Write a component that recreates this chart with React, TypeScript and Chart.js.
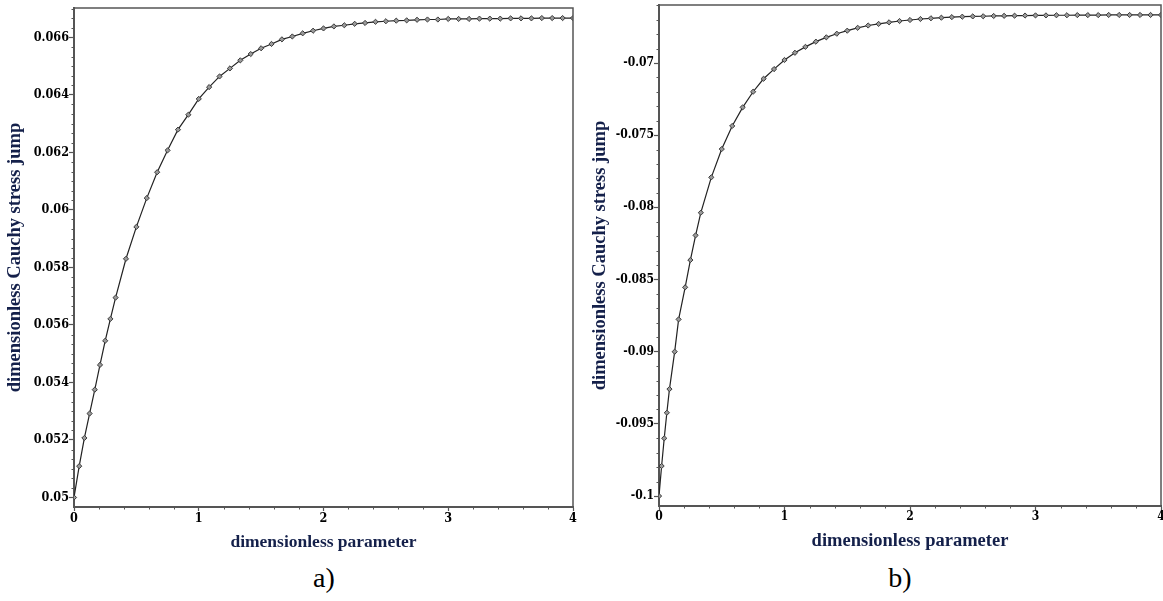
import React, { useEffect, useRef } from "react";
import { Chart, registerables } from "chart.js";
Chart.register(...registerables);

// ---- data ----
const xA = [0, 0.0417, 0.0833, 0.125, 0.1667, 0.2083, 0.25, 0.2917, 0.3333, 0.4167, 0.5, 0.5833, 0.6667, 0.75, 0.8333, 0.9167, 1.0,
  1.0833, 1.1667, 1.25, 1.3333, 1.4167, 1.5, 1.5833, 1.6667, 1.75, 1.8333, 1.9167, 2.0,
  2.0833, 2.1667, 2.25, 2.3333, 2.4167, 2.5, 2.5833, 2.6667, 2.75, 2.8333, 2.9167, 3.0,
  3.0833, 3.1667, 3.25, 3.3333, 3.4167, 3.5, 3.5833, 3.6667, 3.75, 3.8333, 3.9167, 4.0];
const yA = [0.05, 0.05109, 0.05207, 0.05292, 0.05375, 0.05461, 0.05545, 0.05621, 0.05695, 0.0583, 0.05941, 0.06041, 0.06131, 0.06207, 0.06279, 0.06331, 0.06386,
  0.06427, 0.06464, 0.06492, 0.0652, 0.06542, 0.06562, 0.06577, 0.06593, 0.06603, 0.06614, 0.06623, 0.06631,
  0.06638, 0.06642, 0.06647, 0.0665, 0.06654, 0.06656, 0.06658, 0.06659, 0.06661, 0.06662, 0.06662, 0.06664,
  0.06664, 0.06664, 0.06665, 0.06665, 0.06665, 0.06666, 0.06666, 0.06666, 0.06667, 0.06667, 0.06667, 0.06667];

const xB = [0, 0.0208, 0.0417, 0.0625, 0.0833, 0.125, 0.1563, 0.2083, 0.25, 0.2917, 0.3333, 0.4167, 0.5, 0.5833, 0.6667, 0.75, 0.8333, 0.9167, 1.0,
  1.0833, 1.1667, 1.25, 1.3333, 1.4167, 1.5, 1.5833, 1.6667, 1.75, 1.8333, 1.9167, 2.0,
  2.0833, 2.1667, 2.25, 2.3333, 2.4167, 2.5, 2.5833, 2.6667, 2.75, 2.8333, 2.9167, 3.0,
  3.0833, 3.1667, 3.25, 3.3333, 3.4167, 3.5, 3.5833, 3.6667, 3.75, 3.8333, 3.9167, 4.0];
const yB = [-0.1, -0.09792, -0.096, -0.09423, -0.09259, -0.09, -0.08776, -0.08554, -0.08365, -0.08194, -0.08037, -0.07792, -0.07596, -0.07436, -0.07307, -0.07199, -0.07109, -0.07042, -0.06979,
  -0.06929, -0.06888, -0.06852, -0.06822, -0.06797, -0.06776, -0.06756, -0.0674, -0.06729, -0.06718, -0.06709, -0.06702,
  -0.06695, -0.0669, -0.06686, -0.06682, -0.06679, -0.06677, -0.06676, -0.06674, -0.06673, -0.06672, -0.06671, -0.0667,
  -0.0667, -0.06669, -0.06669, -0.06668, -0.06668, -0.06668, -0.06667, -0.06667, -0.06667, -0.06667, -0.06667, -0.06667];

const xTicks = [0, 1, 2, 3, 4];
const yTicksA = [0.05, 0.052, 0.054, 0.056, 0.058, 0.06, 0.062, 0.064, 0.066];
const yTicksB = [-0.1, -0.095, -0.09, -0.085, -0.08, -0.075, -0.07];
const yRangeA = [0.04967, 0.06702];
const yRangeB = [-0.10069, -0.06598];
const xRange = [0, 4];
const xTitle = "dimensionless parameter";
const yTitle = "dimensionless Cauchy stress jump";
const panelLabels = ["a)", "b)"];

const SERIF = "'Liberation Serif', 'Times New Roman', serif";
const TICKFONT = "'DejaVu Serif Condensed', 'Liberation Serif', serif";
const AXIS = "#555555";
const TITLE_COLOR = "#14204a";

const frameMinorPlugin = {
  id: "frameMinor",
  afterDraw(chart: any, _args: any, opts: any) {
    const { ctx, chartArea: ca, scales } = chart;
    ctx.save();
    ctx.strokeStyle = AXIS;
    ctx.lineWidth = 1.5;
    ctx.beginPath();
    ctx.moveTo(ca.left, ca.top);
    ctx.lineTo(ca.right, ca.top);
    ctx.lineTo(ca.right, ca.bottom);
    ctx.stroke();
    ctx.lineWidth = 1;
    const ys = scales.y;
    const yt: number[] = opts.yTicks;
    const ystep = (yt[1] - yt[0]) / opts.yDiv;
    for (let i = -20; i < 200; i++) {
      const v = yt[0] + i * ystep;
      if (v < ys.min - 1e-9 || v > ys.max + 1e-9) continue;
      if (i % opts.yDiv === 0) continue;
      const py = Math.round(ys.getPixelForValue(v)) + 0.5;
      ctx.beginPath();
      ctx.moveTo(ca.left - 2.5, py);
      ctx.lineTo(ca.left, py);
      ctx.stroke();
    }
    const xs = scales.x;
    const xstep = 0.2;
    for (let i = 0; i <= 20; i++) {
      if (i % 5 === 0) continue;
      const v = i * xstep;
      const px = Math.round(xs.getPixelForValue(v)) + 0.5;
      ctx.beginPath();
      ctx.moveTo(px, ca.bottom);
      ctx.lineTo(px, ca.bottom + 2.5);
      ctx.stroke();
    }
    ctx.restore();
  },
};

function makeConfig(xs: number[], ys: number[], yTicks: number[], yRange: number[], yDiv: number,
  padding: any, tickSize: number, xTitleSize: number, yTitleSize: number): any {
  return {
    type: "scatter",
    data: {
      datasets: [
        {
          data: xs.map((x, i) => ({ x, y: ys[i] })),
          showLine: true,
          borderColor: "#222222",
          borderWidth: 1.2,
          pointStyle: "rectRot",
          pointRadius: 2.6,
          pointBackgroundColor: "#9a9a9a",
          pointBorderColor: "#3a3a3a",
          pointBorderWidth: 1,
          tension: 0,
        },
      ],
    },
    options: {
      responsive: false,
      animation: false,
      layout: { padding },
      plugins: {
        legend: { display: false },
        tooltip: { enabled: false },
        frameMinor: { yTicks, yDiv },
      },
      scales: {
        x: {
          type: "linear",
          min: xRange[0],
          max: xRange[1],
          afterBuildTicks: (s: any) => {
            s.ticks = xTicks.map((v) => ({ value: v }));
          },
          afterFit: (s: any) => {
            s.height = 46;
            s.paddingLeft = 0;
            s.paddingRight = 0;
          },
          grid: { drawOnChartArea: false, tickLength: 4, tickColor: AXIS, tickWidth: 1.2 },
          border: { color: AXIS, width: 2 },
          ticks: {
            padding: 0,
            maxRotation: 0,
            autoSkip: false,
            color: "#000000",
            font: { family: TICKFONT, size: tickSize, weight: "bold" },
            callback: (v: any) => String(v),
          },
          title: {
            display: true,
            text: xTitle,
            color: TITLE_COLOR,
            padding: { top: 0, bottom: 0 },
            font: { family: SERIF, size: xTitleSize, weight: "bold" },
          },
        },
        y: {
          type: "linear",
          min: yRange[0],
          max: yRange[1],
          afterBuildTicks: (s: any) => {
            s.ticks = yTicks.map((v) => ({ value: v }));
          },
          afterFit: (s: any) => {
            s.width = 74;
            s.paddingTop = 0;
            s.paddingBottom = 0;
          },
          grid: { drawOnChartArea: false, tickLength: 5, tickColor: AXIS, tickWidth: 1.2 },
          border: { color: AXIS, width: 2 },
          ticks: {
            padding: 0,
            autoSkip: false,
            color: "#000000",
            font: { family: TICKFONT, size: tickSize, weight: "bold" },
            callback: (v: any) => String(v),
          },
          title: {
            display: true,
            text: yTitle,
            color: TITLE_COLOR,
            padding: { top: 4.5, bottom: 0 },
            font: { family: SERIF, size: yTitleSize, weight: "bold" },
          },
        },
      },
    },
    plugins: [frameMinorPlugin],
  };
}

function Panel(props: { left: number; width: number; height: number; config: any }) {
  const ref = useRef<HTMLCanvasElement | null>(null);
  useEffect(() => {
    if (!ref.current) return;
    const chart = new Chart(ref.current, props.config);
    return () => chart.destroy();
  }, []);
  return (
    <canvas
      ref={ref}
      width={props.width}
      height={props.height}
      style={{ position: "absolute", left: props.left, top: 0, width: props.width, height: props.height }}
    />
  );
}

export default function App() {
  const H = 560;
  const cfgA = makeConfig(xA, yA, yTicksA, yRangeA, 6, { left: 0, top: 8, right: 580 - 573, bottom: H - 507 - 46 }, 12.5, 17.5, 18.5);
  const cfgB = makeConfig(xB, yB, yTicksB, yRangeB, 5, { left: 0, top: 5, right: 598 - 576, bottom: H - 506 - 46 }, 12, 18.5, 18.5);
  const labelStyle: any = {
    position: "absolute",
    top: 564,
    width: 80,
    textAlign: "center",
    fontFamily: SERIF,
    fontSize: 28,
    lineHeight: "28px",
    color: "#000",
  };
  return (
    <div style={{ position: "absolute", left: 0, top: 0, width: 1163, height: 601, overflow: "hidden", background: "#fff" }}>
      <Panel left={0} width={580} height={H} config={cfgA} />
      <Panel left={585} width={598} height={H} config={cfgB} />
      <div style={{ ...labelStyle, left: 324 - 40 }}>{panelLabels[0]}</div>
      <div style={{ ...labelStyle, left: 900 - 40 }}>{panelLabels[1]}</div>
    </div>
  );
}
